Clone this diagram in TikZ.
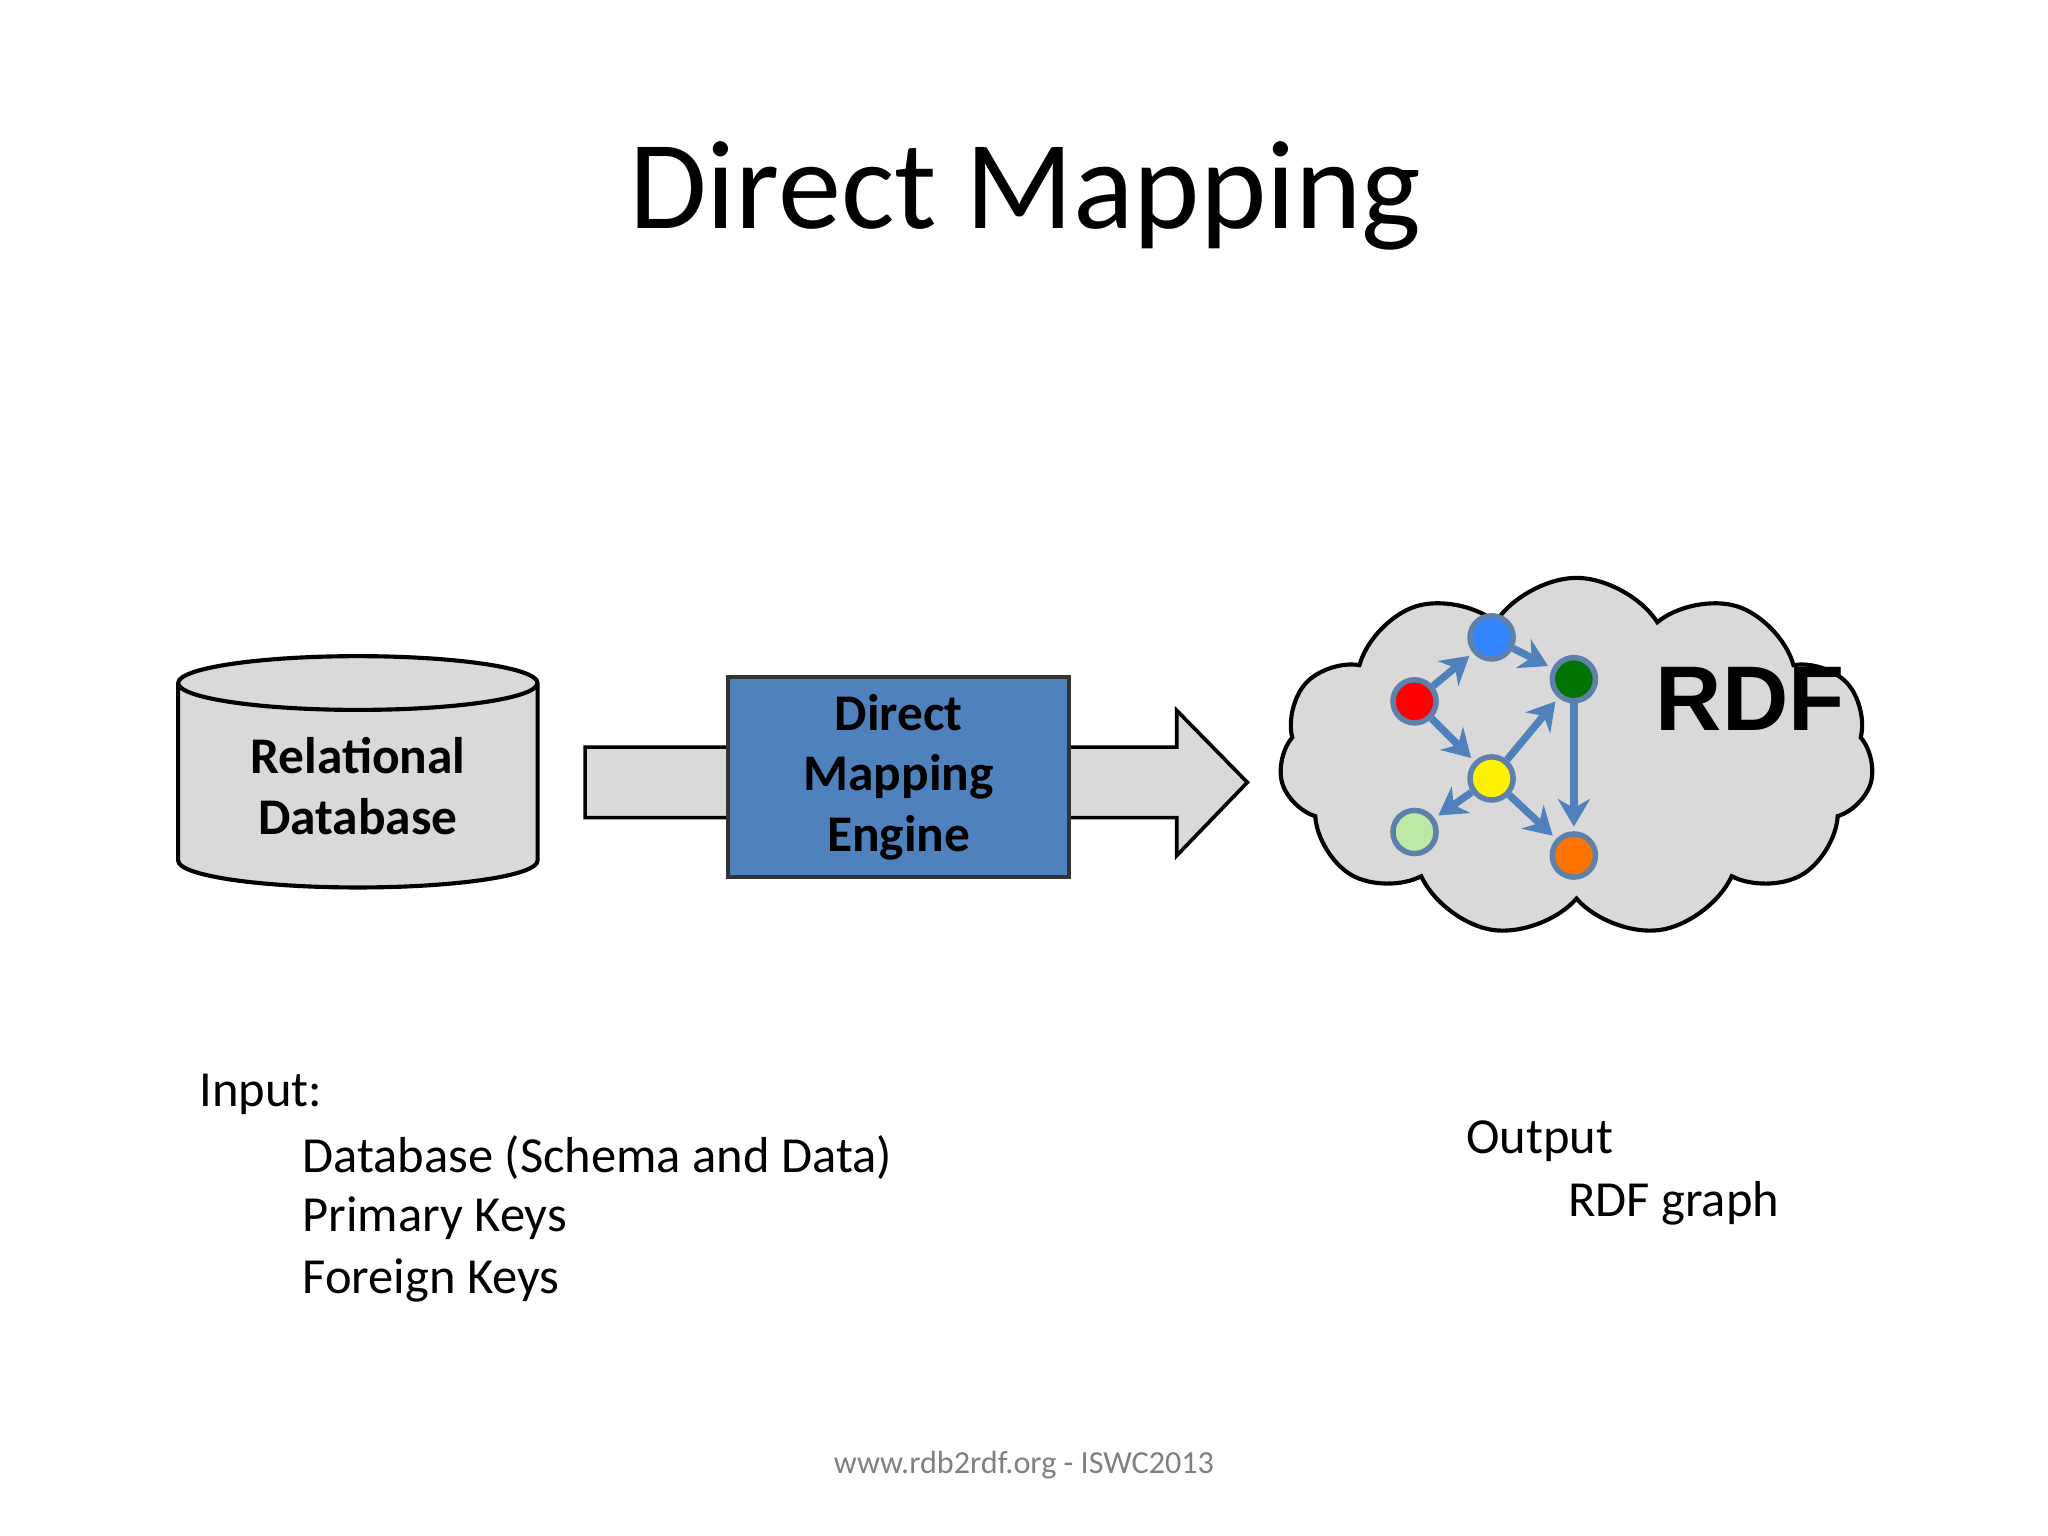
\documentclass[tikz,border=0pt]{standalone}
\usepackage{fontspec}
\setmainfont{Carlito}
\newfontfamily\arialf{Liberation Sans}
\usetikzlibrary{shapes.geometric,shapes.symbols,shapes.arrows,arrows.meta}
\definecolor{steel}{HTML}{4F81BD}
\definecolor{boxgray}{HTML}{D9D9D9}
\begin{document}
\begin{tikzpicture}[x=0.01cm,y=-0.01cm,
  gnode/.style={circle,draw=steel!70!gray,line width=1.2pt,minimum size=0.33cm,inner sep=0pt},
  gedge/.style={draw=steel,line width=1.6pt,-{Stealth[length=6pt,width=7pt]},shorten >=1pt},
  body/.style={font=\fontsize{11}{14}\selectfont,anchor=west,inner sep=0pt},
  boxtext/.style={align=center,inner sep=0pt,font=\bfseries\fontsize{11.2}{13.2}\selectfont}]
\useasboundingbox (0,0) rectangle (1568,1176);
\fill[white] (0,0) rectangle (1568,1176);
\node (title) at (785,150) {\fontsize{27.5}{32}\selectfont Direct Mapping};
% arrow
\draw[fill=boxgray,line width=0.8pt] (448,572) -- (901,572) -- (901,544) -- (955,599) -- (901,655) -- (901,626) -- (448,626) -- cycle;
% cylinder
\node[cylinder,shape border rotate=90,draw=black,fill=boxgray,line width=0.9pt,minimum width=2.75cm,minimum height=1.77cm,aspect=0.25,boxtext] (db) at (274,602) {Relational\\Database};
% engine
\node[draw=black!80,fill=steel,line width=1pt,minimum width=2.61cm,minimum height=1.53cm,boxtext] (eng) at (688,595) {Direct\\Mapping\\Engine};
% cloud
\node[cloud,cloud puffs=11,cloud puff arc=115,aspect=1.7,draw=black,fill=boxgray,line width=0.9pt,minimum width=4.55cm,minimum height=2.75cm] (cloud) at (1207,580) {};
\node[font=\arialf\bfseries\fontsize{20}{24}\selectfont] (rdf) at (1340,535) {RDF};
\node[gnode,fill=blue!60!cyan!80!white] (b) at (1142,488) {};
\node[gnode,fill=green!45!black] (g) at (1205,520) {};
\node[gnode,fill=red] (r) at (1083,537) {};
\node[gnode,fill=yellow] (y) at (1142,596) {};
\node[gnode,fill=green!50!olive!35!white] (lg) at (1083,637) {};
\node[gnode,fill=orange!90!red] (o) at (1205,655) {};
\draw[gedge] (r) -- (b);
\draw[gedge] (b) -- (g);
\draw[gedge] (r) -- (y);
\draw[gedge] (y) -- (g);
\draw[gedge] (y) -- (lg);
\draw[gedge] (y) -- (o);
\draw[gedge] (g) -- (o);
% text
\node[body] (in) at (152,838) {Input:};
\node[body] (i1) at (231,886) {Database (Schema and Data)};
\node[body] (i2) at (231,933) {Primary Keys};
\node[body] (i3) at (231,980) {Foreign Keys};
\node[body] (out) at (1122,874) {Output};
\node[body] (o1) at (1200,921) {RDF graph};
\node[font=\fontsize{7}{9}\selectfont,text=gray] (foot) at (784,1122) {www.rdb2rdf.org - ISWC2013};
\end{tikzpicture}
\end{document}
